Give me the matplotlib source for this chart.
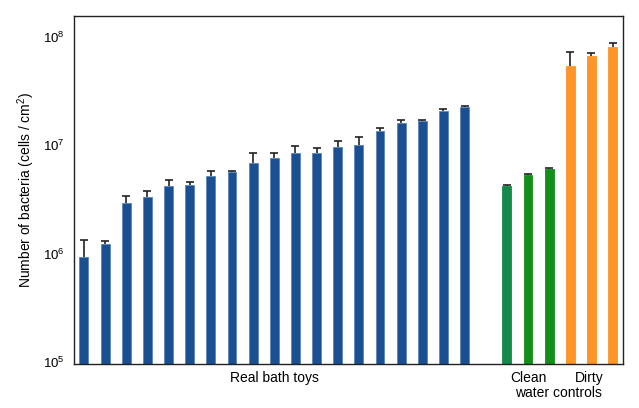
import matplotlib
matplotlib.use("Agg")
import matplotlib.pyplot as plt
import matplotlib.transforms as mtransforms
from matplotlib.ticker import FixedLocator, NullLocator
import numpy as np

plt.rcParams['font.family'] = ['Liberation Sans', 'DejaVu Sans']
plt.rcParams['mathtext.fontset'] = 'custom'
plt.rcParams['mathtext.rm'] = 'Liberation Sans'
plt.rcParams['mathtext.it'] = 'Liberation Sans:italic'

toy_values = [9.25e5, 1.21e6, 2.94e6, 3.33e6, 4.15e6, 4.27e6, 5.21e6, 5.59e6, 6.82e6, 7.64e6,
              8.49e6, 8.49e6, 9.51e6, 1.01e7, 1.36e7, 1.60e7, 1.67e7, 2.05e7, 2.24e7]
toy_err_top = [1.32e6, 1.30e6, 3.41e6, 3.79e6, 4.75e6, 4.59e6, 5.75e6, 5.71e6, 8.38e6, 8.38e6,
               9.71e6, 9.44e6, 1.08e7, 1.19e7, 1.44e7, 1.69e7, 1.69e7, 2.15e7, 2.28e7]
clean_values = [4.22e6, 5.25e6, 6.05e6]
clean_err_top = [4.30e6, 5.35e6, 6.15e6]
dirty_values = [5.40e7, 6.68e7, 8.08e7]
dirty_err_top = [7.22e7, 7.02e7, 8.75e7]

group_labels = ["Real bath toys", "Clean", "Dirty", "water controls"]
ytick_values = [1e5, 1e6, 1e7, 1e8]
ytick_labels = ["10$^5$", "10$^6$", "10$^7$", "10$^8$"]

blue = "#1a5091"
green_colors = ["#138a4b", "#128f1b", "#128f1b"]
orange = "#ff9429"

fig = plt.figure(figsize=(6.39, 4.08), dpi=100)
ax = fig.add_axes([74/639, 1-364/408, (623-74)/639, (364-16)/408])

x_toys = np.arange(len(toy_values))
x_clean = np.arange(len(clean_values)) + len(toy_values) + 1
x_dirty = np.arange(len(dirty_values)) + x_clean[-1] + 1

def draw(xs, vals, tops, colors, edge):
    vals = np.array(vals); tops = np.array(tops)
    ax.bar(xs, vals, width=0.42, color=colors, edgecolor=edge, linewidth=0.6, zorder=2)
    eb = ax.errorbar(xs, vals, yerr=[np.zeros_like(vals), tops - vals], fmt='none',
                     ecolor='#222222', elinewidth=1.2, capsize=3, capthick=1.2, zorder=3)
    caps = eb.lines[1]
    if len(caps) == 2:
        caps[0].set_visible(False)

draw(x_toys, toy_values, toy_err_top, blue, "#5a86b8")
draw(x_clean, clean_values, clean_err_top, green_colors, green_colors)
draw(x_dirty, dirty_values, dirty_err_top, orange, orange)

ax.set_yscale('log')
ax.set_ylim(10**4.98, 10**8.19)
ax.set_xlim(-0.47, x_dirty[-1] + 0.49)
ax.yaxis.set_major_locator(FixedLocator(ytick_values))
ax.set_yticklabels(ytick_labels)
ax.yaxis.set_minor_locator(NullLocator())
ax.set_xticks([])
ax.tick_params(axis='y', length=0, pad=7, labelsize=9.5)
for s in ax.spines.values():
    s.set_color('#222222')
    s.set_linewidth(1.0)
ax.set_ylabel("Number of bacteria (cells / cm$^2$)", fontsize=10, labelpad=4)

trans = mtransforms.blended_transform_factory(ax.transData, fig.transFigure)
ax.text(9, 1-378/408, group_labels[0], transform=trans, ha='center', va='center', fontsize=10)
ax.text(21.0, 1-378/408, group_labels[1], transform=trans, ha='center', va='center', fontsize=10)
ax.text(23.9, 1-378/408, group_labels[2], transform=trans, ha='center', va='center', fontsize=10)
ax.text(22.46, 1-393/408, group_labels[3], transform=trans, ha='center', va='center', fontsize=10)

fig.savefig("out.png", dpi=100)
